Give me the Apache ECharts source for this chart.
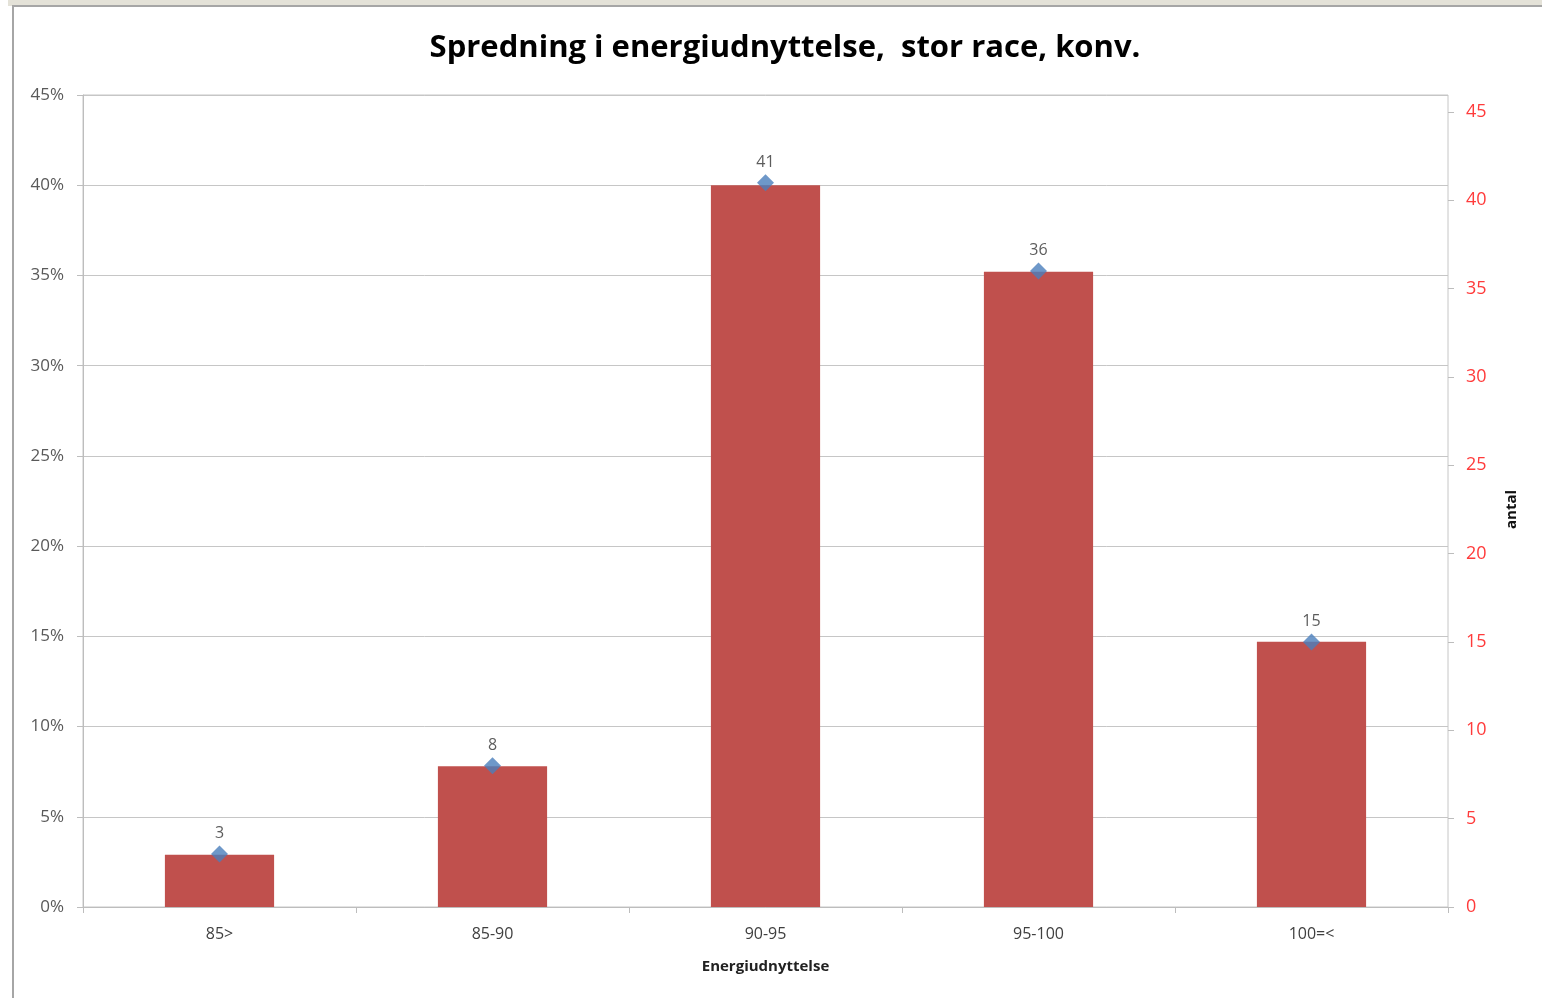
<!DOCTYPE html>
<html>
<head>
<meta charset="utf-8">
<title>Spredning i energiudnyttelse</title>
<script src="https://cdn.jsdelivr.net/npm/echarts@6/dist/echarts.min.js"></script>
<style>
  html, body { margin: 0; padding: 0; background: #ffffff; }
  #chart { width: 1542px; height: 998px; }
</style>
</head>
<body>
<div id="chart"></div>
<script>
// Energy-efficiency classes
const categories = ['85>', '85-90', '90-95', '95-100', '100=<'];
// Share of herds per class (%), drawn as bars on the left axis
const shareValues = [2.9, 7.8, 40.0, 35.2, 14.7];
// Number of herds per class, drawn as markers on the right axis
const countValues = [3, 8, 41, 36, 15];
// Axis tick settings
const pctTicks = { min: 0, max: 45, interval: 5 };
const countTicks = { min: 0, max: 45, interval: 5 };

const chart = echarts.init(document.getElementById('chart'), null, { renderer: 'canvas' });

const FONT = '"Open Sans", "Noto Sans", sans-serif';

chart.setOption({
  animation: false,
  backgroundColor: '#ffffff',
  graphic: [
    { type: 'rect', shape: { x: 8, y: 0, width: 1534, height: 6 }, style: { fill: '#e4e2d8' }, silent: true },
    { type: 'rect', shape: { x: 13, y: 6, width: 1600, height: 1100 }, style: { fill: 'none', stroke: '#a6a6a6', lineWidth: 2 }, silent: true }
  ],
  title: {
    text: 'Spredning i energiudnyttelse,  stor race, konv.',
    left: 780,
    textAlign: 'center',
    top: 28,
    textStyle: { fontFamily: FONT, fontWeight: 'bold', fontSize: 31, color: '#000000' }
  },
  grid: [
    { left: 83, right: 94, top: 95, bottom: 91, show: true, borderColor: '#c6c6c6', borderWidth: 1, backgroundColor: 'transparent' },
    { left: 83, right: 94, top: 112, bottom: 91 }
  ],
  xAxis: [
    {
      type: 'category',
      gridIndex: 0,
      data: categories,
      axisLine: { lineStyle: { color: '#bdbdbd', width: 1 } },
      axisTick: { show: true, alignWithLabel: false, length: 6, lineStyle: { color: '#bdbdbd' } },
      axisLabel: { fontFamily: FONT, fontSize: 16, color: '#404040', margin: 19 },
      name: 'Energiudnyttelse',
      nameLocation: 'middle',
      nameGap: 52,
      nameTextStyle: { fontFamily: FONT, fontWeight: 'bold', fontSize: 15, color: '#222222' }
    },
    {
      type: 'category',
      gridIndex: 1,
      data: categories,
      show: false
    }
  ],
  yAxis: [
    {
      type: 'value',
      gridIndex: 0,
      position: 'left',
      min: pctTicks.min,
      max: pctTicks.max,
      interval: pctTicks.interval,
      axisLine: { show: true, lineStyle: { color: '#bdbdbd' } },
      axisTick: { show: true, length: 6, lineStyle: { color: '#bdbdbd' } },
      axisLabel: { fontFamily: FONT, fontSize: 17, color: '#595959', margin: 19, formatter: v => v + '%' },
      splitLine: { show: true, lineStyle: { color: '#c6c6c6', width: 1 } }
    },
    {
      type: 'value',
      gridIndex: 1,
      position: 'right',
      min: countTicks.min,
      max: countTicks.max,
      interval: countTicks.interval,
      axisLine: { show: false },
      axisTick: { show: true, length: 6, lineStyle: { color: '#bdbdbd' } },
      axisLabel: { fontFamily: FONT, fontSize: 18, color: '#ff3b3b', margin: 18 },
      splitLine: { show: false },
      name: 'antal',
      nameLocation: 'middle',
      nameGap: 56,
      nameTextStyle: { fontFamily: FONT, fontWeight: 'bold', fontSize: 15, color: '#111111' }
    }
  ],
  series: [
    {
      type: 'bar',
      xAxisIndex: 0,
      yAxisIndex: 0,
      data: shareValues,
      barWidth: '40%',
      itemStyle: { color: '#c0504d' }
    },
    {
      type: 'scatter',
      xAxisIndex: 1,
      yAxisIndex: 1,
      data: countValues,
      symbol: 'diamond',
      symbolSize: [17, 17],
      itemStyle: { color: '#4a7ebb' },
      label: {
        show: true,
        position: 'top',
        distance: 4,
        fontFamily: FONT,
        fontSize: 16,
        color: '#333333'
      },
      z: 5
    }
  ]
});
</script>
</body>
</html>
